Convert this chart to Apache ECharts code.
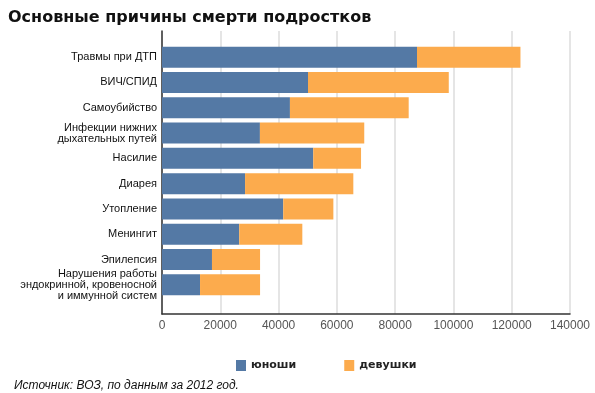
<!DOCTYPE html>
<html><head><meta charset="utf-8">
<script src="https://cdn.jsdelivr.net/npm/echarts@6/dist/echarts.min.js"></script>
<style>html,body{margin:0;padding:0;background:#fff}#c{width:595px;height:393px}</style>
</head><body><div id="c"></div>
<script>
const categories = ['Травмы при ДТП', 'ВИЧ/СПИД', 'Самоубийство', 'Инфекции нижних\nдыхательных путей', 'Насилие', 'Диарея', 'Утопление', 'Менингит', 'Эпилепсия', 'Нарушения работы\nэндокринной, кровеносной\nи иммунной систем'];
const boys = [87500, 50100, 43900, 33600, 51900, 28500, 41600, 26500, 17150, 13050];
const girls = [35500, 48300, 40750, 35800, 16400, 37150, 17200, 21650, 16500, 20600];
const xTicks = {min: 0, max: 140000, interval: 20000};
const seriesNames = ['юноши', 'девушки'];
const colors = ['#5479a5', '#fcab4d'];

const chart = echarts.init(document.getElementById('c'), null, {renderer: 'canvas'});
chart.setOption({
  animation: false,
  color: colors,
  title: {
    text: 'Основные причины смерти подростков',
    left: 3, top: 5,
    textStyle: {fontFamily: 'DejaVu Sans', fontWeight: 'bold', fontSize: 16, color: '#111'}
  },
  legend: {
    data: seriesNames,
    left: 231, top: 355,
    itemWidth: 10, itemHeight: 11, itemGap: 48,
    icon: 'rect',
    textStyle: {fontFamily: 'DejaVu Sans', fontWeight: 'bold', fontSize: 11, color: '#222'}
  },
  graphic: [{
    type: 'text', left: 14, top: 380,
    style: {text: 'Источник: ВОЗ, по данным за 2012 год.', fontFamily: 'Liberation Sans', fontStyle: 'italic', fontSize: 12, fill: '#111'}
  }],
  grid: [
    {left: 162, right: 25, top: 44.5, bottom: 95.5},
    {left: 162, right: 25, top: 31, bottom: 79}
  ],
  xAxis: [
    {gridIndex: 0, type: 'value', min: xTicks.min, max: xTicks.max, interval: xTicks.interval, show: false},
    {gridIndex: 1, type: 'value', min: xTicks.min, max: xTicks.max, interval: xTicks.interval,
     axisLine: {show: true, lineStyle: {color: '#333', width: 1.5}},
     axisTick: {show: false},
     axisLabel: {color: '#555', fontFamily: 'Liberation Sans', fontSize: 12, margin: 6, formatter: v => String(v)},
     splitLine: {show: true, lineStyle: {color: '#dcdcdc', width: 1.5}}}
  ],
  yAxis: [
    {gridIndex: 0, type: 'category', data: categories, inverse: true,
     axisLine: {show: false}, axisTick: {show: false},
     axisLabel: {color: '#111', fontFamily: 'Liberation Sans', fontSize: 11, lineHeight: 11, margin: 5, align: 'right'}},
    {gridIndex: 1, type: 'value', min: 0, max: 1,
     axisLine: {show: true, lineStyle: {color: '#333', width: 1.5}},
     axisTick: {show: false}, axisLabel: {show: false}, splitLine: {show: false}}
  ],
  series: [
    {name: seriesNames[0], type: 'bar', stack: 's', xAxisIndex: 0, yAxisIndex: 0, data: boys, barWidth: 21, z: 3},
    {name: seriesNames[1], type: 'bar', stack: 's', xAxisIndex: 0, yAxisIndex: 0, data: girls, barWidth: 21, z: 3}
  ]
});
</script></body></html>
